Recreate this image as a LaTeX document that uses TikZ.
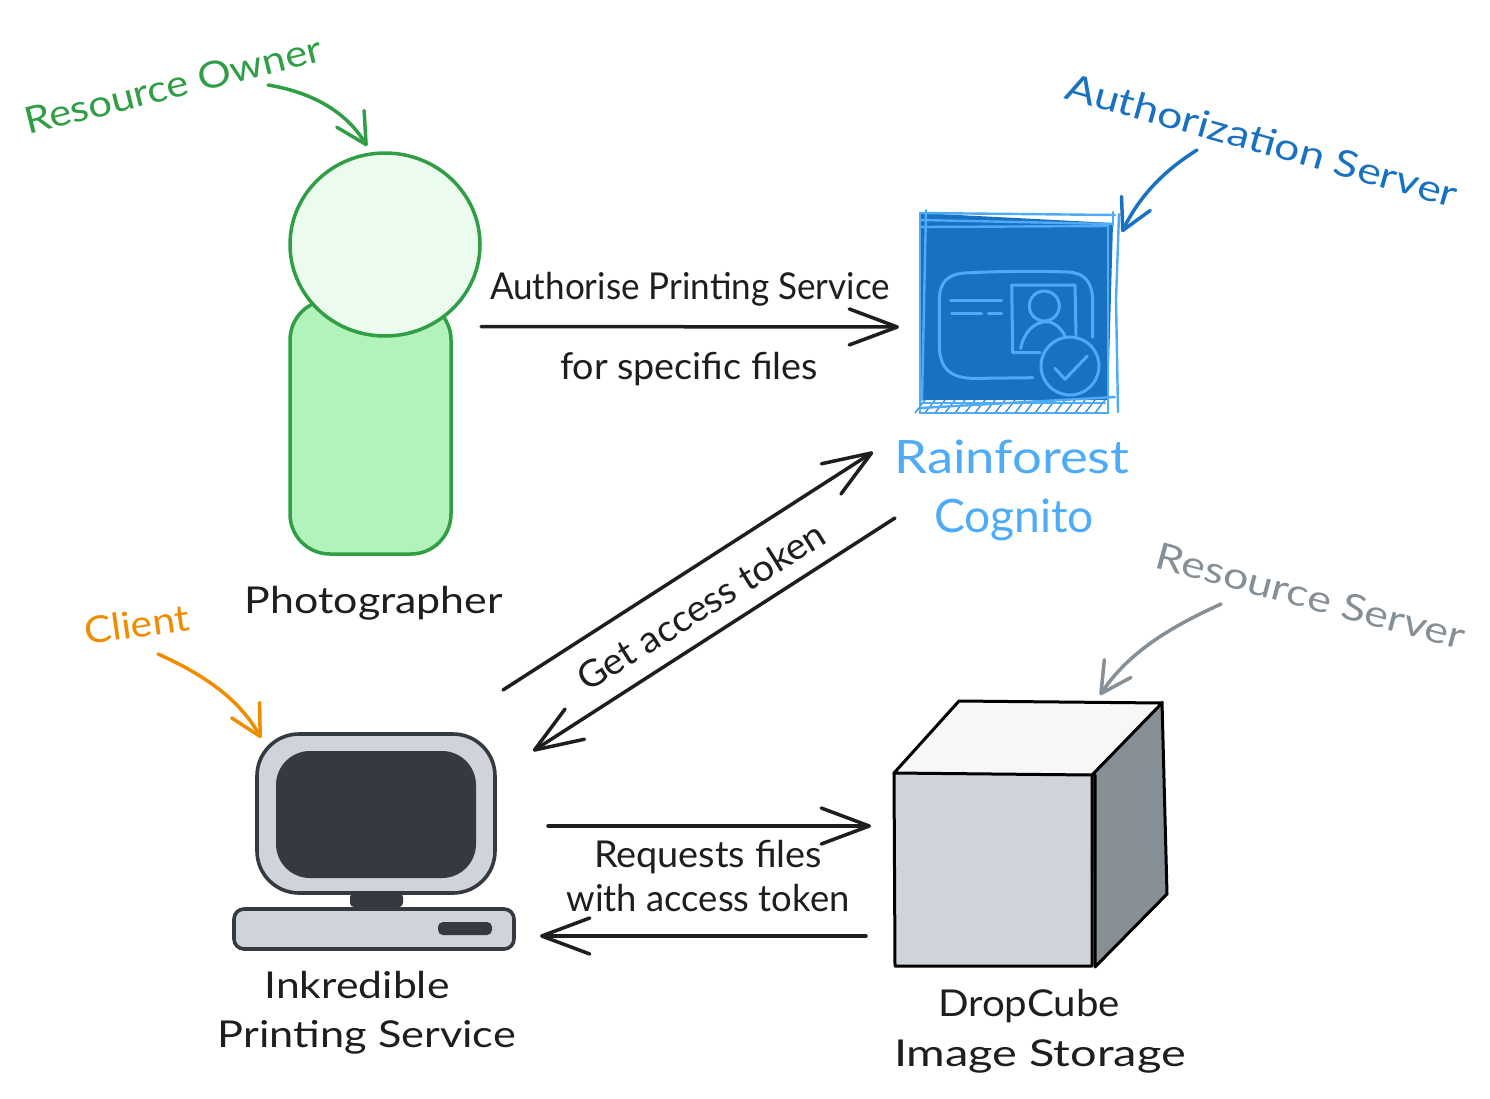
\documentclass[tikz,border=0pt]{standalone}
\usepackage{fontspec}
\usepackage{graphicx}
\setmainfont{Lato}
\usetikzlibrary{arrows.meta,shapes.geometric}
\definecolor{ink}{HTML}{1E1E1E}
\definecolor{sgreen}{HTML}{2F9E44}
\definecolor{sgreenl}{HTML}{B2F2BB}
\definecolor{sgreenx}{HTML}{EBFBEE}
\definecolor{sblue}{HTML}{1971C2}
\definecolor{sbluel}{HTML}{4DABF7}
\definecolor{sgray}{HTML}{868E96}
\definecolor{sorange}{HTML}{F08C00}
\definecolor{slate}{HTML}{343A40}
\definecolor{silver}{HTML}{CED4DA}
\definecolor{cubetop}{HTML}{F6F8F7}
\newcommand{\fit}[2]{\resizebox{#1pt}{\height}{#2}}
\tikzset{
  lbl/.style={inner sep=0pt,outer sep=0pt,text=ink,font=\fontsize{37}{44}\selectfont},
  big/.style={font=\fontsize{46}{54}\selectfont},
  flow/.style={draw=ink,line width=3.5pt,line cap=round,-{Straight Barb[length=48pt,width=36pt,round]}},
  note/.style={line width=3.5pt,line cap=round,-{Straight Barb[length=30pt,width=32pt,round]}},
  shape box/.style={rectangle,inner sep=0pt,outer sep=0pt},
  pc/.style={shape box,draw=slate,fill=silver,line width=3.6pt},
  pcdark/.style={shape box,fill=slate},
  icon/.style={draw=sbluel,line width=3pt,line cap=round,line join=round},
  sk/.style={draw=sbluel,line width=2.4pt,line cap=round},
  cubeline/.style={draw=black,line width=3pt,line join=round,line cap=round}
}
\begin{document}
\begin{tikzpicture}[x=1pt,y=-1pt]
\useasboundingbox (0,0) rectangle (1490,1098);

% Photographer
\node[shape box,draw=sgreen,fill=sgreenl,line width=3.5pt,rounded corners=40pt,minimum width=161pt,minimum height=254pt] (body) at (370.5,427) {};
\node[ellipse,inner sep=0pt,outer sep=0pt,draw=sgreen,fill=sgreenx,line width=3.5pt,minimum width=190pt,minimum height=183pt] (head) at (385,244.5) {};

% Cognito icon
\node[shape box,minimum width=192pt,minimum height=190pt] (cognito) at (1017,311) {};
\fill[sblue] (919,213) -- (1113,223) -- (1108,400) -- (921,400) -- cycle;
\foreach \k in {0,...,18} {
  \draw[sk,line width=1.2pt,draw=sblue!70!sbluel] (925+\k*10,400) -- (915+\k*10,413);
}
\draw[sk] (920,213) -- (1115,215);
\draw[sk] (920,220) -- (1113,224);
\draw[sk] (921,227) -- (1108,226);
\draw[sk] (926,210) -- (922,400);
\draw[sk] (920,213) -- (920,413);
\draw[sk] (1108,226) -- (1108,413);
\draw[sk] (1119,214) -- (1116,300) -- (1118,412);
\draw[sk] (1113,212) -- (1113,226);
\draw[sk] (920,413) -- (1108,413);
\draw[sk] (920,408) -- (1115,397);
\draw[sk] (920,403) -- (1105,403);
\draw[icon] (1032.7,377.7) -- (975,378.4) .. controls (950,378.5) and (939.3,368) .. (939.3,345) -- (939.3,300) .. controls (939.3,282) and (948,274) .. (965,273) .. controls (1000,271) and (1040,271) .. (1068,272) .. controls (1085,273) and (1092,282) .. (1092.7,300) -- (1092.7,337.3);
\draw[icon] (950.7,300) -- (1001.7,300);
\draw[icon] (951.7,313.3) -- (981.7,313.3);
\draw[icon] (988.3,313.3) -- (1001.7,313.3);
\draw[icon] (1040,352.7) -- (1012.7,352.7) -- (1011.7,285) -- (1075,285) -- (1076,335);
\draw[icon] (1044.3,306) circle[radius=15];
\draw[icon] (1020.7,348.3) .. controls (1024,332) and (1034,322) .. (1046.7,321.7) .. controls (1054,322) and (1061,328) .. (1065,336);
\draw[icon] (1070,366) circle[radius=29];
\draw[icon] (1055,368.3) -- (1065,379.3) -- (1087.3,356);

% Computer
\node[pc,rounded corners=42pt,minimum width=238pt,minimum height=159pt] (monitor) at (376,813.5) {};
\node[pcdark,rounded corners=34pt,minimum width=200pt,minimum height=127pt] (screen) at (376,814.5) {};
\node[pcdark,rounded corners=4pt,minimum width=53pt,minimum height=14pt] (stand) at (376.5,900) {};
\node[pc,rounded corners=10pt,minimum width=280pt,minimum height=40pt] (base) at (374,929) {};
\node[pcdark,rounded corners=5pt,minimum width=54pt,minimum height=13pt] (slot) at (465,928.5) {};

% Cube
\fill[sgray] (1162,702) -- (1167,894) -- (1095,967) -- (1092,775) -- cycle;
\fill[cubetop] (959,701) -- (1162,703) -- (1092,774) -- (894,772) -- cycle;
\node[shape box,fill=silver,minimum width=198pt,minimum height=193pt] (cube) at (993,869.5) {};
\draw[cubeline] (894,773) -- (959,701) -- (1162,703) -- (1092,775) -- cycle;
\draw[cubeline] (894,773) -- (895,966) -- (1092,966) -- (1092,775);
\draw[cubeline] (1095,775) -- (1095,967) -- (1167,894) -- (1162,702);

% Labels
\node[lbl,text=sgreen,rotate=14] (owner) at (173,85) {\fit{305}{Resource Owner}};
\node[lbl,text=sblue,rotate=-15.7] (authz) at (1262,140) {\fit{405}{Authorization Server}};
\node[lbl] (authprint) at (690,289) {\fit{400}{Authorise Printing Service}};
\node[lbl] (specific) at (689,369) {\fit{258}{for specific files}};
\node[lbl,big,text=sbluel] (rain) at (1012,457) {\fit{235}{Rainforest}};
\node[lbl,big,text=sbluel] (cog) at (1014,520) {\fit{160}{Cognito}};
\node[lbl,text=sgray,rotate=-15] (rserver) at (1311,596) {\fit{318}{Resource Server}};
\node[lbl] (photog) at (374,603) {\fit{258}{Photographer}};
\node[lbl,text=sorange,rotate=8] (client) at (137,624) {\fit{105}{Client}};
\node[lbl,rotate=32] (gettoken) at (701,606) {\fit{285}{Get access token}};
\node[lbl] (reqfiles) at (708,857) {\fit{228}{Requests files}};
\node[lbl] (withtoken) at (708,898) {\fit{283}{with access token}};
\node[lbl] (inkr) at (357,985) {\fit{185}{Inkredible}};
\node[lbl] (printsvc) at (367,1037) {\fit{298}{Printing Service}};
\node[lbl] (dropc) at (1029,1006) {\fit{182}{DropCube}};
\node[lbl] (imgst) at (1040,1056) {\fit{292}{Image Storage}};

% Flow connectors
\draw[flow] ([shift={(1,82)}]head.east) -- ([shift={(-22,16)}]cognito.west);
\draw[flow] ([shift={(8,-44)}]monitor.north east) -- ([shift={(-48,46)}]cognito.south west);
\draw[flow] ([shift={(-26,112)}]cognito.south west) -- ([shift={(38,17)}]monitor.north east);
\draw[flow] ([shift={(53,12.5)}]monitor.east) -- ([shift={(-23,-43.5)}]cube.west);
\draw[flow] ([shift={(-28,66.5)}]cube.west) -- ([shift={(26,7)}]base.east);

% Annotation arrows
\coordinate (ownerTail) at (268,85);
\coordinate (authzTail) at (1197,150);
\coordinate (clientTail) at (158,654);
\coordinate (rserverTail) at (1221,604);
\coordinate (cubeTopEnd) at (1100,695);
\draw[note,draw=sgreen] (ownerTail) .. controls (310,92) and (345,110) .. ([shift={(-18,-7)}]head.north);
\draw[note,draw=sblue] (authzTail) .. controls (1165,170) and (1140,195) .. ([shift={(9,16)}]cognito.north east);
\draw[note,draw=sorange] (clientTail) .. controls (205,675) and (240,700) .. ([shift={(4,4)}]monitor.north west);
\draw[note,draw=sgray] (rserverTail) .. controls (1175,625) and (1130,650) .. (cubeTopEnd);
\end{tikzpicture}
\end{document}
